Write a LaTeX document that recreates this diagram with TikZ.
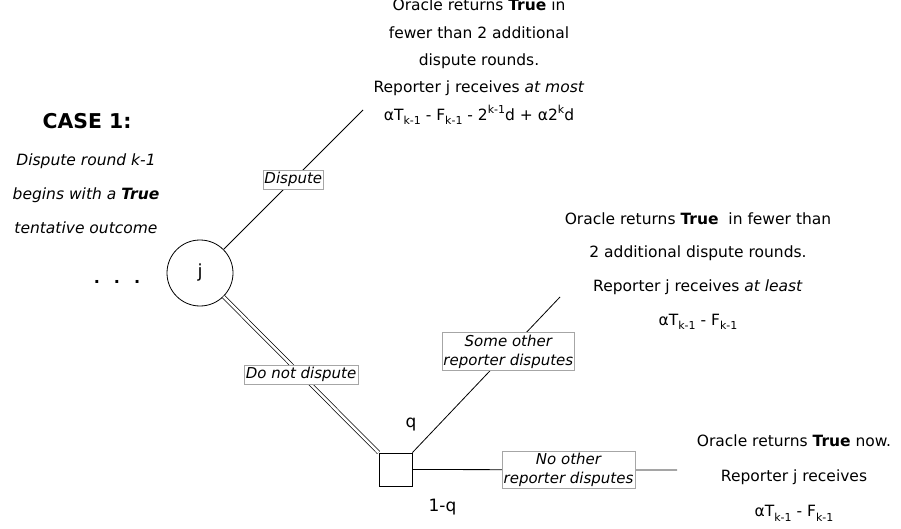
\documentclass[tikz,border=0pt]{standalone}
\usepackage{fontspec}
\setmainfont{DejaVu Sans}
\usetikzlibrary{positioning}
\newcommand{\subtxt}[1]{\raisebox{-0.3em}{\fontsize{11}{11}\selectfont #1}}
\newcommand{\suptxt}[1]{\raisebox{0.45em}{\fontsize{11}{11}\selectfont #1}}

\begin{document}
\begin{tikzpicture}[x=1pt, y=-1pt, line width=0.8pt,
  decision/.style={circle, draw, minimum size=66pt, inner sep=0pt, font=\fontsize{18}{20}\selectfont},
  chance/.style={rectangle, draw, minimum size=33pt, inner sep=0pt},
  lbl/.style={draw=gray!70, line width=0.5pt, fill=white, align=center, inner xsep=1.5pt, inner ysep=2pt, font=\fontsize{15}{19}\selectfont\itshape},
  outcome/.style={align=center, inner sep=0pt, font=\fontsize{15.5}{#1}\selectfont},
  prob/.style={inner sep=0pt, font=\fontsize{17}{20}\selectfont}]
  \useasboundingbox (0,0) rectangle (901,529);

  % Nodes
  \node[decision] (j) at (200,273) {j};
  \node[chance] (sq) at (395.5,469.5) {};
  \node[inner sep=0pt, font=\fontsize{16}{18}\selectfont\bfseries] (dots) at (117,282) {.\hspace{14pt}.\hspace{14pt}.};
  \node[inner sep=0pt, font=\fontsize{20.4}{24}\selectfont\bfseries] (case) at (87,121) {CASE 1:};
  \node[outcome=34, font=\fontsize{15.5}{34}\selectfont\itshape] (caseinfo) at (86,194)
    {Dispute round k-1\\ begins with a \textbf{True}\\ tentative outcome};
  \node[outcome=27.3] (topout) at (479,62)
    {Oracle returns \textbf{True} in\\ fewer than 2 additional\\ dispute rounds.\\
     Reporter j receives \textit{at most}\\
     αT\subtxt{k-1} - F\subtxt{k-1} - 2\suptxt{k-1}d + α2\suptxt{k}d};
  \node[outcome=33.7] (midout) at (698,271)
    {Oracle returns \textbf{True}\ \ in fewer than\\ 2 additional dispute rounds.\\
     Reporter j receives \textit{at least}\\ αT\subtxt{k-1} - F\subtxt{k-1}};
  \node[outcome=35] (lowout) at (794,478)
    {Oracle returns \textbf{True} now.\\ Reporter j receives\\ αT\subtxt{k-1} - F\subtxt{k-1}};
  \node[prob] (q) at (411,425) {q};
  \node[prob] (notq) at (442.5,507) {1-q};

  \coordinate (topend) at (363,110);
  \coordinate (midend) at (560,297);
  \coordinate (lowend) at (677,470);

  % Edges
  \path[draw]
  (j) edge node[lbl, pos=.5] {Dispute} (topend)
  (sq.north east) edge node[lbl, pos=.65] {Some other\\ reporter disputes} (midend)
  (sq.east) edge node[lbl, pos=.59] {No other\\ reporter disputes} (lowend);
  \draw[double, double distance=2.5pt, line width=0.7pt] (j) -- node[lbl, pos=.5, line width=0.5pt] {Do not dispute} (sq.north west);
\end{tikzpicture}
\end{document}
